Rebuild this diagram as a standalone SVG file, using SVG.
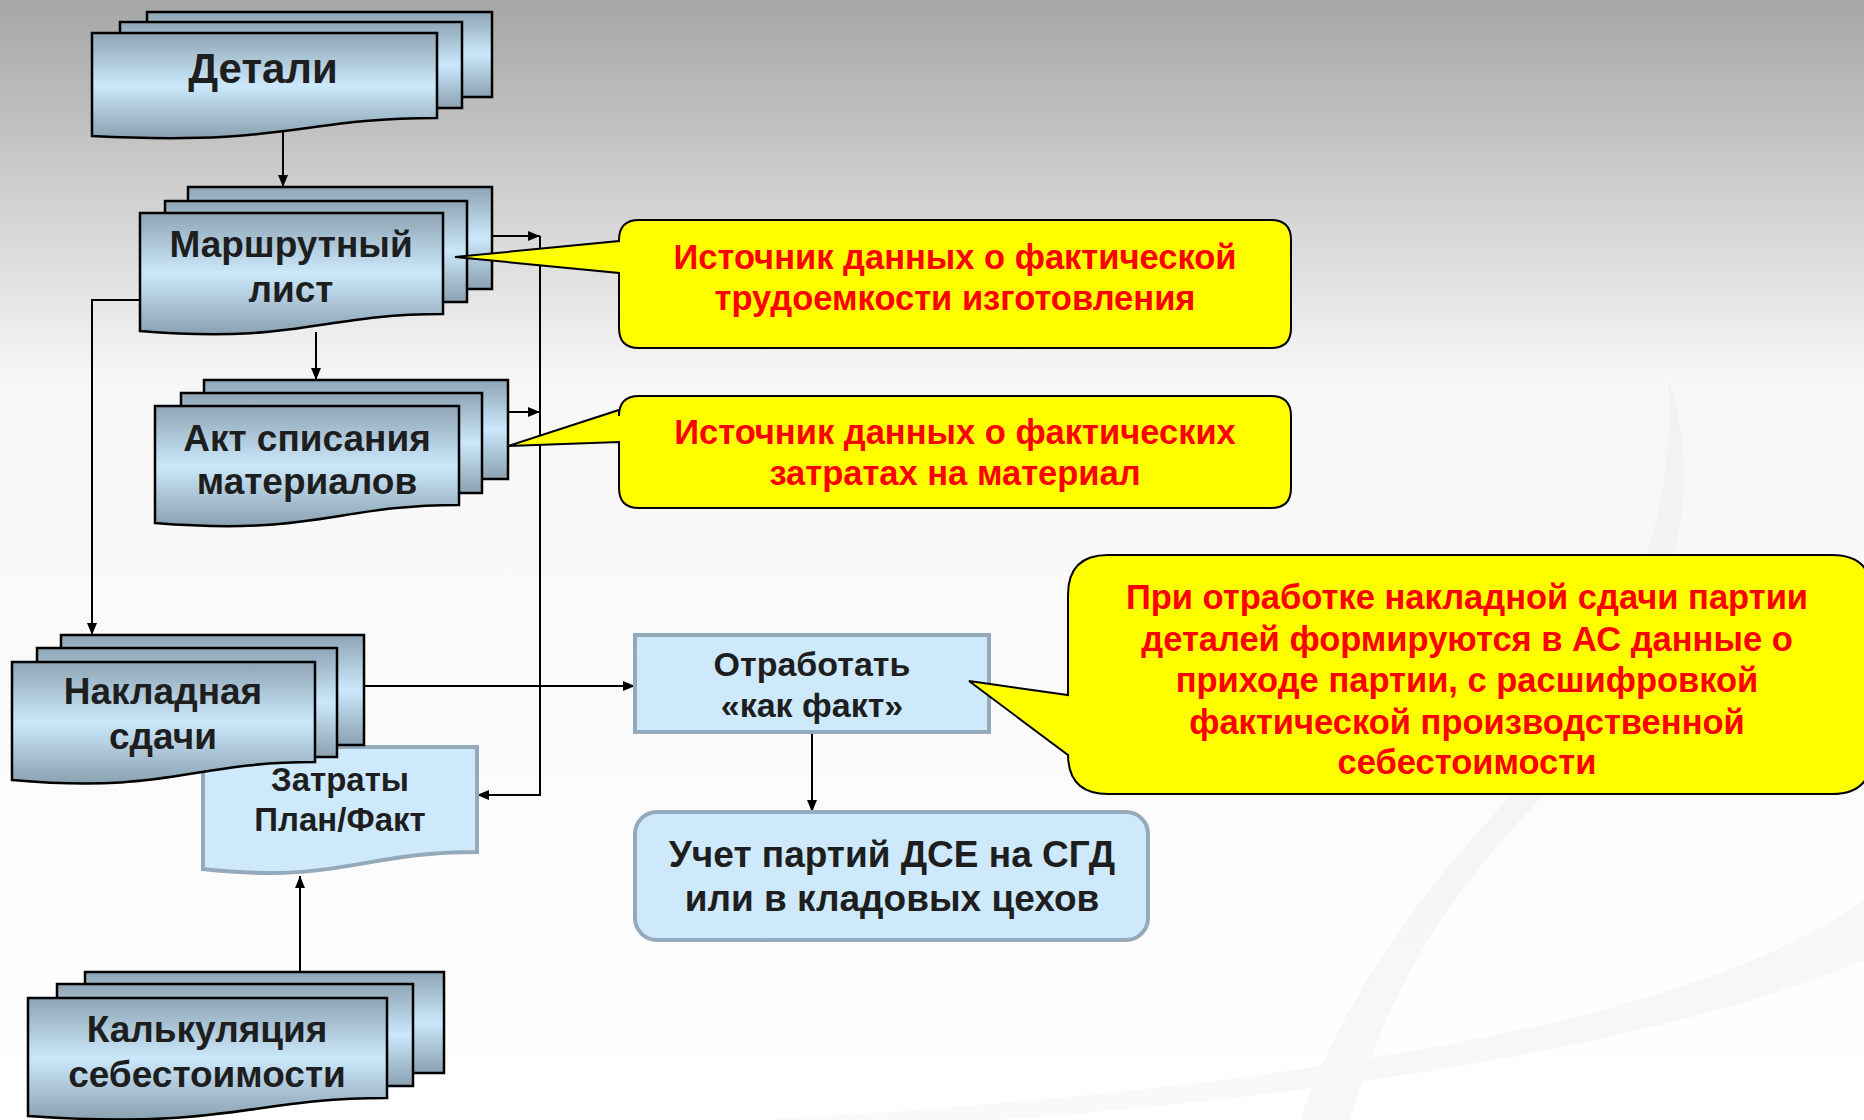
<svg xmlns="http://www.w3.org/2000/svg" width="1864" height="1120" viewBox="0 0 1864 1120">
<defs>
<linearGradient id="bg" x1="0" y1="0" x2="0" y2="1">
<stop offset="0" stop-color="#a6a6a6"/>
<stop offset="0.34" stop-color="#f7f7f7"/>
<stop offset="1" stop-color="#ffffff"/>
</linearGradient>
<linearGradient id="gBlue" x1="0" y1="0" x2="0" y2="1">
<stop offset="0" stop-color="#8ea5b5"/>
<stop offset="0.5" stop-color="#cbe8fb"/>
<stop offset="1" stop-color="#8aa1b1"/>
</linearGradient>
<marker id="arr" viewBox="0 0 12 10" refX="12" refY="5" markerWidth="12" markerHeight="10" markerUnits="userSpaceOnUse" orient="auto">
<path d="M0,0 L12,5 L0,10 Z" fill="#000"/>
</marker>
<style>
.pg{fill:url(#gBlue);stroke:#000;stroke-width:2.5}
.lt{fill:#cde9fb;stroke:#94aabb;stroke-width:4}
.nt{font-family:"Liberation Sans",Arial,sans-serif;font-weight:bold;fill:#1e1e1e;text-anchor:middle}
.co{fill:#ffff00;stroke:#000;stroke-width:2}
.ct{font-family:"Liberation Sans",Arial,sans-serif;font-weight:bold;fill:#ff0000;text-anchor:middle;font-size:34.5px}
.cn{stroke:#000;stroke-width:2;fill:none}
</style>
</defs>
<rect x="0" y="0" width="1864" height="1120" fill="url(#bg)"/>
<g id="background-swoosh" fill="#000" opacity="0.025">
<path d="M1668,380 C1720,520 1640,700 1520,820 C1420,930 1380,1020 1350,1120 L1300,1120 C1340,1010 1400,920 1480,830 C1600,700 1680,540 1668,380 Z"/>
<path d="M1864,900 C1700,1020 1300,1090 760,1120 L1000,1120 C1400,1090 1700,1030 1864,960 Z"/>
</g>

<g id="connectors">
<line class="cn" x1="283" y1="128" x2="283" y2="187" marker-end="url(#arr)"/>
<line class="cn" x1="316" y1="332" x2="316" y2="380" marker-end="url(#arr)"/>
<polyline class="cn" points="140,300 92,300 92,635" marker-end="url(#arr)"/>
<line class="cn" x1="492" y1="236" x2="540" y2="236" marker-end="url(#arr)"/>
<line class="cn" x1="508" y1="412" x2="540" y2="412" marker-end="url(#arr)"/>
<polyline class="cn" points="540,236 540,795 477,795" marker-end="url(#arr)"/>
<line class="cn" x1="364" y1="686" x2="635" y2="686" marker-end="url(#arr)"/>
<line class="cn" x1="812" y1="732" x2="812" y2="812" marker-end="url(#arr)"/>
<line class="cn" x1="300" y1="972" x2="300" y2="876" marker-end="url(#arr)"/>
</g>

<g id="detali">
<rect class="pg" x="147" y="12" width="345" height="85"/>
<rect class="pg" x="120" y="22" width="342" height="86"/>
<path class="pg" d="M92,33 H437 V118 C300,118 290,146 92,136 Z"/>
<text class="nt" x="263" y="83" font-size="42">Детали</text>
</g>

<g id="marshrutny-list">
<rect class="pg" x="188" y="187" width="304" height="102"/>
<rect class="pg" x="165" y="201" width="302" height="101"/>
<path class="pg" d="M140,213 H443 V314 C320,314 300,344 140,331 Z"/>
<text class="nt" x="291" y="257" font-size="37">Маршрутный</text>
<text class="nt" x="291" y="302" font-size="37">лист</text>
</g>

<g id="akt-spisaniya">
<rect class="pg" x="204" y="380" width="304" height="99"/>
<rect class="pg" x="181" y="393" width="301" height="100"/>
<path class="pg" d="M155,406 H459 V505 C336,505 316,536 155,523 Z"/>
<text class="nt" x="307" y="451" font-size="37">Акт списания</text>
<text class="nt" x="307" y="494" font-size="37">материалов</text>
</g>

<g id="zatraty">
<path class="lt" d="M203,747 H477 V852 C360,852 340,884 203,869 Z"/>
<text class="nt" x="340" y="791" font-size="33">Затраты</text>
<text class="nt" x="340" y="831" font-size="33">План/Факт</text>
</g>

<g id="nakladnaya">
<rect class="pg" x="61" y="635" width="303" height="110"/>
<rect class="pg" x="37" y="648" width="300" height="109"/>
<path class="pg" d="M12,662 H315 V762 C190,762 170,794 12,780 Z"/>
<text class="nt" x="163" y="704" font-size="37">Накладная</text>
<text class="nt" x="163" y="749" font-size="37">сдачи</text>
</g>

<g id="kalkulyatsiya">
<rect class="pg" x="85" y="972" width="359" height="101"/>
<rect class="pg" x="57" y="984" width="356" height="102"/>
<path class="pg" d="M28,998 H387 V1098 C250,1098 230,1130 28,1116 Z"/>
<text class="nt" x="207" y="1042" font-size="37">Калькуляция</text>
<text class="nt" x="207" y="1087" font-size="37">себестоимости</text>
</g>

<g id="otrabotat">
<rect class="lt" x="635" y="635" width="354" height="97"/>
<text class="nt" x="812" y="676" font-size="34">Отработать</text>
<text class="nt" x="812" y="717" font-size="34">«как факт»</text>
</g>

<g id="uchet">
<rect class="lt" x="635" y="812" width="513" height="128" rx="22" ry="22"/>
<text class="nt" x="892" y="867" font-size="37">Учет партий ДСЕ на СГД</text>
<text class="nt" x="892" y="911" font-size="37">или в кладовых цехов</text>
</g>

<g id="callout-trudoemkost">
<path class="co" d="M639,220 H1271 Q1291,220 1291,240 V328 Q1291,348 1271,348 H639 Q619,348 619,328 V273 L455,257 L619,241 V240 Q619,220 639,220 Z"/>
<text class="ct" x="955" y="269">Источник данных о фактической</text>
<text class="ct" x="955" y="310">трудоемкости изготовления</text>
</g>

<g id="callout-material">
<path class="co" d="M639,396 H1271 Q1291,396 1291,416 V488 Q1291,508 1271,508 H639 Q619,508 619,488 V442 L508,446 L619,410 V416 Q619,396 639,396 Z"/>
<text class="ct" x="955" y="444">Источник данных о фактических</text>
<text class="ct" x="955" y="485">затратах на материал</text>
</g>

<g id="callout-prihod">
<path class="co" d="M1108,555 H1832 Q1872,555 1872,595 V754 Q1872,794 1832,794 H1108 Q1068,794 1068,754 V755 L969,681 L1068,695 V595 Q1068,555 1108,555 Z"/>
<text class="ct" x="1467" y="609">При отработке накладной сдачи партии</text>
<text class="ct" x="1467" y="651">деталей формируются в АС данные о</text>
<text class="ct" x="1467" y="692">приходе партии, с расшифровкой</text>
<text class="ct" x="1467" y="734">фактической производственной</text>
<text class="ct" x="1467" y="774">себестоимости</text>
</g>
</svg>
